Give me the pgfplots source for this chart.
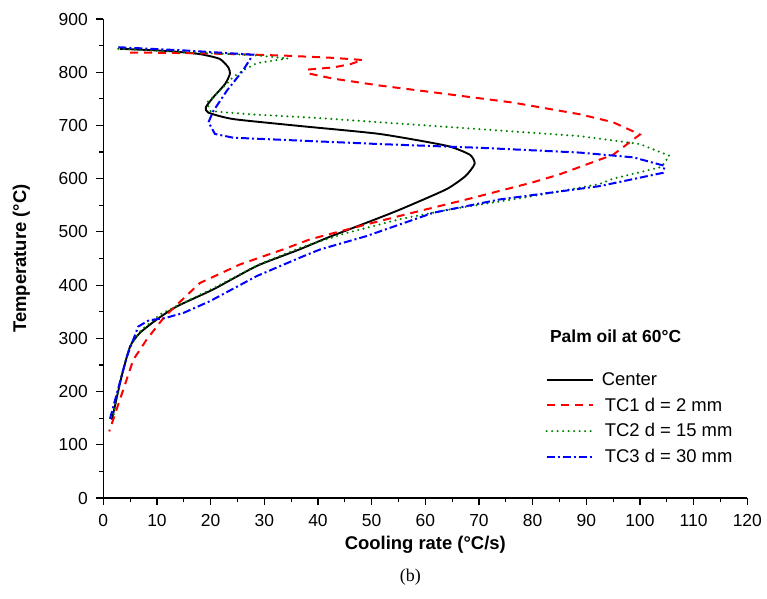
\documentclass[border=0pt]{standalone}
\usepackage{fontspec}
\setmainfont{Liberation Sans}
\newfontfamily\seriffont{Liberation Serif}
\usepackage{pgfplots}
\usetikzlibrary{calc}
\pgfplotsset{compat=1.18}
\begin{document}
\begin{tikzpicture}
\begin{axis}[
 scale only axis, width=644bp, height=479bp,
 xmin=0, xmax=120, ymin=0, ymax=900,
 axis x line=bottom, axis y line=left,
 axis line style={line width=1.4pt,-},
 xtick={0,10,...,120}, ytick={0,100,...,900},
 minor x tick num=1, minor y tick num=1,
 tick align=outside, major tick length=7bp, minor tick length=4bp,
 every tick/.style={line width=1.2pt, black},
 /pgf/number format/assume math mode=true,
 ticklabel style={font=\fontsize{17.5}{20}\selectfont},
 xticklabel style={yshift=-6bp},
 yticklabel style={xshift=-5bp},
 xlabel={Cooling rate (°C/s)}, ylabel={Temperature (°C)},
 label style={font=\fontsize{18.5}{21}\selectfont\bfseries},
 xlabel shift=2bp, ylabel shift=22bp,
 legend style={draw=none, fill=none, at={(axis cs:81.8,243)}, anchor=north west,
   font=\fontsize{18.5}{21}\selectfont, row sep=6.8bp},
 legend cell align=left,
 legend image code/.code={\draw[#1] (0bp,0bp) -- (46bp,0bp); \path (52bp,0bp);},
 clip=false,
]
\coordinate (O) at (axis cs:0,0);
\addplot[black, line width=1.9bp, smooth, tension=0.35] coordinates {
(3.1,844) (11.8,840) (18,834) (21.7,825) (23.3,809) (23.6,797) (22.7,778) (20.5,753) (19.1,734) (19.6,724) (24.2,712) (36.6,699) (51.5,684) (63.9,662) (68.3,645) (69.2,628) (67.5,605) (63.9,580) (55.3,542) (49,517) (42,490) (36.3,466) (28.6,436) (20.5,392) (13.7,360) (9.9,335) (6.8,310) (5.0,285) (3.4,228) (1.6,147)
};
\addlegendentry{Center}
\addplot[red, line width=2bp, dash pattern=on 8bp off 6bp] coordinates {
(5,837) (15,836) (25,834) (34.2,831) (42.8,827) (48.3,823) (46,815) (42.8,809) (38.1,805) (38.1,798) (42.8,788) (51.5,775) (64,759) (76.3,743) (88.8,721) (95,706) (100,683) (95,645) (85,608) (80,593) (67.7,561) (58,537) (49,514) (38.5,486) (33.5,467) (25.5,439) (18,404) (13.7,363) (11.2,338) (8.1,298) (5.6,260) (3.7,203) (1.1,125)
};
\addlegendentry{\,TC1 d = 2 mm}
\addplot[green!50!black, line width=2.3bp, line cap=round, dash pattern=on 0bp off 5.5bp] coordinates {
(2.8,844) (15,838) (28,832) (34.4,826) (28.6,817) (26,803) (24.2,791) (21.7,765) (19.3,743) (19.9,727) (27.3,721) (40,714) (51.5,706) (70.2,693) (88.8,680) (100,665) (105.5,643) (104,622) (95,600) (92.5,590) (80,567) (64.5,542) (55.3,524) (45,497) (36.6,470) (28.6,437) (20.5,394) (13.7,361) (10.6,345) (7,315) (5,285) (3.3,228) (1.8,150)
};
\addlegendentry{\,TC2 d = 15 mm}
\addplot[blue, line width=2bp, dash pattern=on 8bp off 3bp on 2bp off 3bp] coordinates {
(2.8,847) (15,841) (27.9,833) (26,803) (23,765) (20.5,727) (19.6,706) (20.8,684) (24.2,677) (51.5,665) (70.2,658) (88.8,649) (98.8,640) (104.6,624) (104.3,611) (92.5,586) (73.9,561) (61.5,536) (49,492) (40.4,467) (37.2,454) (28.6,417) (19.9,370) (15,348) (11.5,338) (8.5,334) (6.5,322) (4.4,266) (1.2,147)
};
\addlegendentry{\,TC3 d = 30 mm}
\node[anchor=west, font=\fontsize{17.5}{20}\selectfont\bfseries] at (axis cs:82.6,303) {Palm oil at 60°C};
\end{axis}
\node[font=\seriffont\fontsize{18}{21}\selectfont] at ($(O)+(307bp,-79bp)$) {(b)};
\pgfresetboundingbox
\path[use as bounding box] ($(O)+(-103.3bp,-101bp)$) rectangle ($(O)+(663.7bp,498bp)$);
\end{tikzpicture}
\end{document}
